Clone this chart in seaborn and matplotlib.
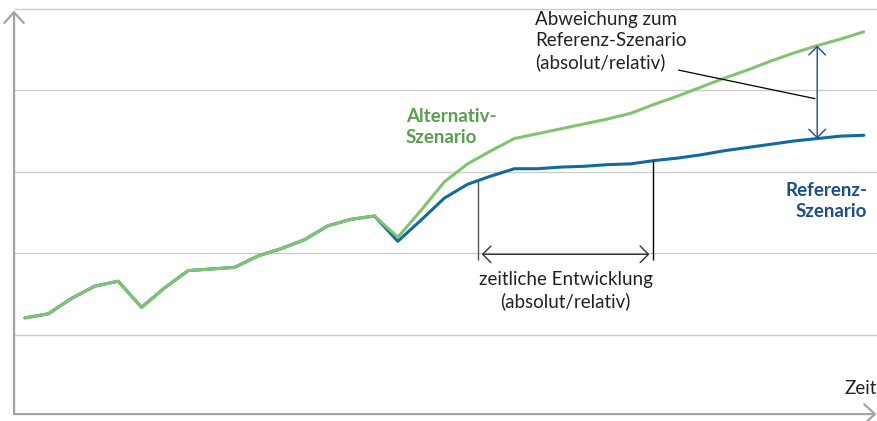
import numpy as np
import pandas as pd
import seaborn as sns
import matplotlib.pyplot as plt

# gemeinsamer Verlauf bis zum Abzweig, danach zwei Szenarien
gemeinsam = [1.21, 1.26, 1.45, 1.60, 1.66, 1.34, 1.58, 1.79, 1.81, 1.83,
             1.97, 2.06, 2.17, 2.34, 2.42, 2.46]
referenz_rest = [2.15, 2.41, 2.68, 2.85, 2.95, 3.04, 3.04, 3.06, 3.07, 3.09,
                 3.10, 3.14, 3.17, 3.21, 3.26, 3.30, 3.34, 3.38, 3.41, 3.44, 3.45]
alternativ_rest = [2.20, 2.53, 2.88, 3.10, 3.26, 3.41, 3.47, 3.53, 3.59, 3.65,
                   3.72, 3.83, 3.93, 4.04, 4.15, 4.25, 4.36, 4.46, 4.55, 4.63, 4.72]
grid_werte = [1, 2, 3, 4, 5]

referenz = np.array(gemeinsam + referenz_rest)
alternativ = np.array(gemeinsam + alternativ_rest)
zeit = np.arange(len(referenz))

df = pd.DataFrame({
    'zeit': np.concatenate([zeit, zeit]),
    'wert': np.concatenate([referenz, alternativ]),
    'szenario': ['Referenz'] * len(zeit) + ['Alternativ'] * len(zeit),
})

sns.set_theme(style='white')
plt.rcParams['font.family'] = ['Lato', 'DejaVu Sans']

GRUEN = '#80c46f'
GRUEN_TXT = '#5a9f50'
BLAU = '#106a9e'
BLAU_TXT = '#1d4e8a'
GRAU = '#a3a3a3'
TXT = '#222222'
FS = 13.5

fig = plt.figure(figsize=(8.78, 4.21), dpi=100)
ax = fig.add_axes([0, 0, 1, 1])
ax.set_xlim(-1.073, 36.61)
ax.set_ylim(-0.055, 5.11)
ax.axis('off')

x0, y0 = -0.47, 0.03  # Ursprung der Achsen
x1 = 36.55

ax.hlines(grid_werte, x0, 36.61, color='#cccccc', lw=1, zorder=0)

sns.lineplot(data=df, x='zeit', y='wert', hue='szenario',
             hue_order=['Referenz', 'Alternativ'],
             palette={'Referenz': BLAU, 'Alternativ': GRUEN},
             linewidth=2.2, legend=False, ax=ax)

# Achsenpfeile
pfeil = dict(arrowstyle='->,head_length=0.55,head_width=0.5', color=GRAU,
             lw=1.6, mutation_scale=14, shrinkA=0, shrinkB=0)
ax.annotate('', xy=(x0, 4.98), xytext=(x0, y0), arrowprops=pfeil)
ax.annotate('', xy=(x1, y0), xytext=(x0, y0), arrowprops=pfeil)
ax.text(x1, 0.24, 'Zeit', ha='right', va='bottom', fontsize=FS, color=TXT)

# Abweichung zum Referenz-Szenario
t_abw = 34
ax.annotate('', xy=(t_abw, alternativ[t_abw]), xytext=(t_abw, referenz[t_abw]),
            arrowprops=dict(arrowstyle='<->,head_length=0.5,head_width=0.5',
                            color=BLAU_TXT, lw=1, mutation_scale=12,
                            shrinkA=0, shrinkB=0))
ax.plot([28.05, 33.9], [4.25, 3.9], color='black', lw=0.9)
ax.text(21.9, 4.97, 'Abweichung zum\nReferenz-Szenario\n(absolut/relativ)',
        ha='left', va='top', fontsize=FS, color=TXT, linespacing=1.27)

# zeitliche Entwicklung
t_a, t_b = 19.45, 26.95
ax.vlines(t_a, 1.92, np.interp(t_a, zeit, referenz), color='#555555', lw=1)
ax.vlines(t_b, 1.92, np.interp(t_b, zeit, referenz), color='black', lw=1)
ax.annotate('', xy=(t_a + 0.15, 1.99), xytext=(t_b - 0.15, 1.99),
            arrowprops=dict(arrowstyle='<->,head_length=0.5,head_width=0.5',
                            color='#333333', lw=1, mutation_scale=12,
                            shrinkA=0, shrinkB=0))
ax.text((t_a + t_b) / 2, 1.78, 'zeitliche Entwicklung\n(absolut/relativ)',
        ha='center', va='top', fontsize=FS, color=TXT, linespacing=1.27)

# Szenario-Beschriftungen
ax.text(16.35, 3.55, 'Alternativ-\nSzenario', ha='left', va='center',
        fontsize=FS, fontweight='bold', color=GRUEN_TXT, linespacing=1.3)
ax.text(36.15, 2.64, 'Referenz-\nSzenario', ha='right', va='center',
        fontsize=FS, fontweight='bold', color=BLAU_TXT, linespacing=1.3)

fig.savefig('out.png', dpi=100)
